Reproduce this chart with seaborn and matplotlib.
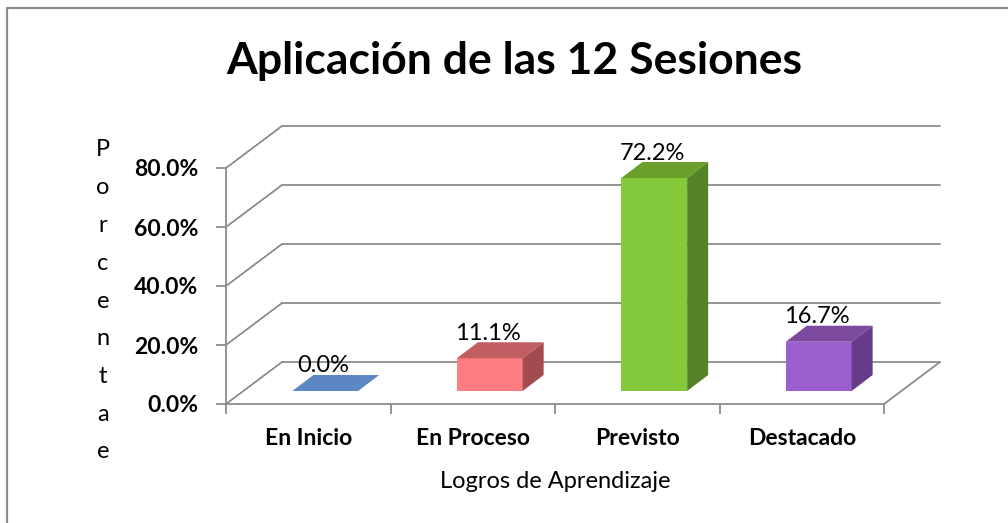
import matplotlib
matplotlib.use("Agg")
import matplotlib.pyplot as plt
from matplotlib.patches import Polygon
from matplotlib.lines import Line2D
import seaborn as sns
import pandas as pd

categories = ["En Inicio", "En Proceso", "Previsto", "Destacado"]
values = [0.0, 0.111, 0.722, 0.167]
value_labels = ["0.0%", "11.1%", "72.2%", "16.7%"]
y_ticks = [0.0, 0.2, 0.4, 0.6, 0.8]
y_tick_labels = ["0.0%", "20.0%", "40.0%", "60.0%", "80.0%"]
front_colors = ["#5B87C5", "#FF7C80", "#84C93A", "#9E5FCE"]
top_colors = ["#5B87C5", "#C15E61", "#6A9F2C", "#7B4A9F"]
side_colors = ["#4A6FA5", "#A34C4F", "#558226", "#663B89"]
title = "Aplicación de las 12 Sesiones"
x_title = "Logros de Aprendizaje"
y_title = "Porcentae"

W, H, DPI = 1008, 523, 100
sns.set_theme(style="white")
plt.rcParams["font.family"] = ["Lato", "DejaVu Sans"]

fig = plt.figure(figsize=(W / DPI, H / DPI), dpi=DPI)
ax = fig.add_axes([226 / W, (H - 404) / H, (884 - 226) / W, (404 - 168) / H])
ax.set_facecolor("none")

df = pd.DataFrame({"cat": categories, "val": values})
sns.barplot(data=df, x="cat", y="val", hue="cat", palette=front_colors,
            width=0.4, saturation=1, legend=False, ax=ax, linewidth=0,
            zorder=3)
ax.set_xlim(-0.5, len(categories) - 0.5)
ax.set_ylim(0, 0.8)

# pixel -> data unit conversion
ppx = ax.bbox.width / (len(categories))
ppy = ax.bbox.height / 0.8

def d(px, py):
    return px / ppx, py / ppy

grid_c = "#8C8C8C"
glw = 1.3
x0a, x1a = -0.5, len(categories) - 0.5
bx, by = d(56, 42)

# back wall gridlines and side-wall lines
for t in y_ticks:
    ax.add_line(Line2D([x0a + bx, x1a + bx], [t + by, t + by], color=grid_c,
                       lw=glw, clip_on=False, zorder=1))
    ax.add_line(Line2D([x0a, x0a + bx], [t, t + by], color=grid_c,
                       lw=glw, clip_on=False, zorder=1))
# floor right edge
ax.add_line(Line2D([x1a, x1a + bx], [0, by], color=grid_c, lw=glw,
                   clip_on=False, zorder=1))

# bars: shift into the depth and add top/side faces
fx, fy = d(17, 13)
dx, dy = d(21, 16)
for p in ax.patches:
    i = int(round(p.get_x() + p.get_width() / 2))
    xa = p.get_x() + fx
    xb = xa + p.get_width()
    h = p.get_height()
    p.set_x(xa)
    p.set_y(fy)
    p.set_clip_on(False)
    base, top = fy, fy + h
    ax.add_patch(Polygon([(xa, top), (xb, top), (xb + dx, top + dy),
                          (xa + dx, top + dy)], closed=True,
                         facecolor=top_colors[i], edgecolor="none",
                         zorder=4, clip_on=False))
    if h > 0:
        ax.add_patch(Polygon([(xb, base), (xb + dx, base + dy),
                              (xb + dx, top + dy), (xb, top)], closed=True,
                             facecolor=side_colors[i], edgecolor="none",
                             zorder=4, clip_on=False))
    lx, ly = d(-2, 38)
    ax.text(i + fx + lx, h + ly, value_labels[i], ha="center", va="center",
            fontsize=17, color="black", zorder=6, clip_on=False)

# axes styling
for s in ["top", "right"]:
    ax.spines[s].set_visible(False)
for s in ["left", "bottom"]:
    ax.spines[s].set_color(grid_c)
    ax.spines[s].set_linewidth(glw)
ax.set_yticks(y_ticks)
ax.set_yticklabels(y_tick_labels, fontweight="bold", fontsize=16.5)
ax.set_xticks(range(len(categories)))
ax.set_xticklabels(categories, fontweight="bold", fontsize=16.5)
ax.set_xticks([x0a + k for k in range(len(categories) + 1)], minor=True)
ax.tick_params(axis="y", which="major", left=True, length=7, width=glw,
               color=grid_c, pad=13, labelcolor="black")
ax.tick_params(axis="x", which="major", bottom=True, length=0, pad=17,
               labelcolor="black")
ax.tick_params(axis="x", which="minor", bottom=True, length=7, width=glw,
               color=grid_c)
ax.set_xlabel(x_title, fontsize=17, labelpad=16, color="black")
ax.set_ylabel("")
ax.grid(False)

# vertical stacked y title
for k, ch in enumerate(y_title):
    fig.text(103 / W, 1 - (150 + k * 37.75) / H, ch, ha="center", va="center",
             fontsize=17, color="black")

fig.text(514 / W, 1 - 61 / H, title, ha="center", va="center",
         fontsize=32, fontweight="bold", color="black")

# outer frame
fig.add_artist(Line2D([7 / W, 7 / W], [0, 1 - 8 / H], color="#8C8C8C",
                      lw=1.6, transform=fig.transFigure))
fig.add_artist(Line2D([7 / W, 1], [1 - 8 / H, 1 - 8 / H], color="#8C8C8C",
                      lw=1.6, transform=fig.transFigure))

fig.savefig("out.png", dpi=DPI, facecolor="white")
